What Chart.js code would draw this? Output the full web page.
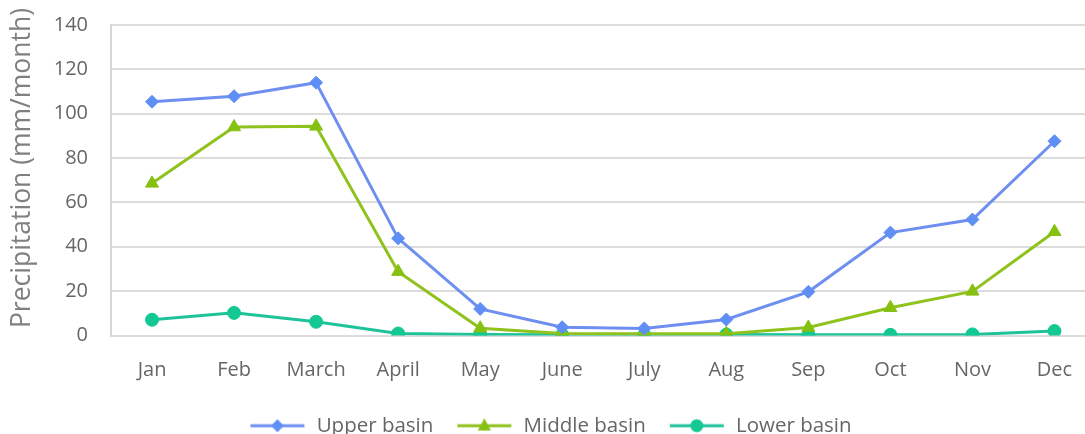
<!DOCTYPE html>
<html>
<head>
<meta charset="utf-8">
<script src="https://cdn.jsdelivr.net/npm/chart.js@4.4.0/dist/chart.umd.min.js"></script>
<style>
  html, body { margin: 0; padding: 0; background: #fff; overflow: hidden; }
  #wrap { width: 1085px; height: 434px; overflow: hidden; position: relative; }
  canvas { display: block; }
</style>
</head>
<body>
<div id="wrap"><canvas id="chart" width="1104" height="450"></canvas></div>
<script>
// Monthly precipitation (mm/month) by basin section
const months = ['Jan', 'Feb', 'March', 'April', 'May', 'June', 'July', 'Aug', 'Sep', 'Oct', 'Nov', 'Dec'];
const upperBasin  = [105.4, 107.9, 114.0, 43.8, 12.0, 3.7, 3.2, 7.2, 19.7, 46.4, 52.3, 87.6];
const middleBasin = [68.6, 94.0, 94.3, 28.8, 3.3, 0.9, 0.8, 0.8, 3.6, 12.5, 19.9, 46.8];
const lowerBasin  = [7.1, 10.2, 6.2, 0.9, 0.4, 0.3, 0.3, 0.4, 0.3, 0.3, 0.5, 2.0];
const seriesNames = ['Upper basin', 'Middle basin', 'Lower basin'];
const yTicks = [0, 20, 40, 60, 80, 100, 120, 140];
const yTitle = 'Precipitation (mm/month)';

const FONT = '"Open Sans", "Noto Sans", sans-serif';
const TEXT = '#666666';

const styles = [
  { line: '#6e8fef', fill: '#5f8ff4', shape: 'rectRot', r: 6.5 },
  { line: '#8fc21c', fill: '#86c010', shape: 'triangle', r: 7.5 },
  { line: '#1ec39a', fill: '#14c893', shape: 'circle', r: 6.5 }
];

// Legend swatch: short line with the series marker in its middle
function swatch(st) {
  const c = document.createElement('canvas');
  c.width = 70; c.height = 18;
  const g = c.getContext('2d');
  const y = 9, x0 = 14, x1 = 68, xm = (x0 + x1) / 2;
  g.strokeStyle = st.line; g.lineWidth = 3;
  g.beginPath(); g.moveTo(x0, y); g.lineTo(x1, y); g.stroke();
  g.fillStyle = st.fill;
  g.beginPath();
  if (st.shape === 'rectRot') {
    const r = 6.5;
    g.moveTo(xm, y - r); g.lineTo(xm + r, y); g.lineTo(xm, y + r); g.lineTo(xm - r, y);
  } else if (st.shape === 'triangle') {
    const r = 7.5;
    g.moveTo(xm, y - r); g.lineTo(xm + r * 0.87, y + r * 0.5 + 1); g.lineTo(xm - r * 0.87, y + r * 0.5 + 1);
  } else {
    g.arc(xm, y, 6.5, 0, Math.PI * 2);
  }
  g.closePath(); g.fill();
  return c;
}

// Vertical axis title, drawn rotated beside the value labels;
// the legend row is nudged slightly left of the canvas centre.
const layoutTweaks = {
  id: 'layoutTweaks',
  afterLayout(chart) {
    if (chart.legend) {
      chart.legend.left -= 8;
      chart.legend.right -= 8;
    }
  },
  afterDraw(chart) {
    const ctx = chart.ctx;
    ctx.save();
    ctx.translate(22, 168);
    ctx.rotate(-Math.PI / 2);
    ctx.font = '26.5px ' + FONT;
    ctx.fillStyle = '#808080';
    ctx.textAlign = 'center';
    ctx.textBaseline = 'middle';
    ctx.fillText(yTitle, 0, 0);
    ctx.restore();
  }
};

const values = [upperBasin, middleBasin, lowerBasin];
const datasets = values.map((v, i) => ({
  label: seriesNames[i],
  data: v,
  borderColor: styles[i].line,
  backgroundColor: styles[i].fill,
  pointBackgroundColor: styles[i].fill,
  pointBorderColor: styles[i].fill,
  pointStyle: styles[i].shape,
  pointRadius: styles[i].r,
  pointBorderWidth: 1,
  borderWidth: 3,
  tension: 0,
  fill: false
}));

new Chart(document.getElementById('chart'), {
  type: 'line',
  data: { labels: months, datasets: datasets },
  plugins: [layoutTweaks],
  options: {
    responsive: false,
    animation: false,
    layout: { padding: { top: 25, right: 0, bottom: 4, left: 0 } },
    plugins: {
      tooltip: { enabled: false },
      legend: {
        position: 'bottom',
        labels: {
          usePointStyle: true,
          pointStyleWidth: 70,
          padding: 10,
          color: TEXT,
          font: { family: FONT, size: 20.5 },
          generateLabels: () => seriesNames.map((n, i) => ({
            text: n,
            pointStyle: swatch(styles[i]),
            fillStyle: styles[i].fill,
            strokeStyle: styles[i].line,
            lineWidth: 0,
            hidden: false,
            datasetIndex: i,
            fontColor: TEXT
          }))
        }
      }
    },
    scales: {
      x: {
        offset: true,
        grid: { display: false, drawTicks: false },
        border: { display: false },
        ticks: { color: TEXT, padding: 23, font: { family: FONT, size: 20 } },
        afterFit: s => { s.height = 70; }
      },
      y: {
        min: 0,
        max: 140,
        afterBuildTicks: s => { s.ticks = yTicks.map(v => ({ value: v })); },
        grid: { color: '#dcdcdc', lineWidth: 2, drawTicks: false },
        border: { display: true, color: '#d6d6d6', width: 2 },
        ticks: { color: TEXT, padding: 23, font: { family: FONT, size: 20 } },
        afterFit: s => { s.width = 111; s.paddingTop = 0; s.paddingBottom = 0; }
      }
    }
  }
});
</script>
</body>
</html>
